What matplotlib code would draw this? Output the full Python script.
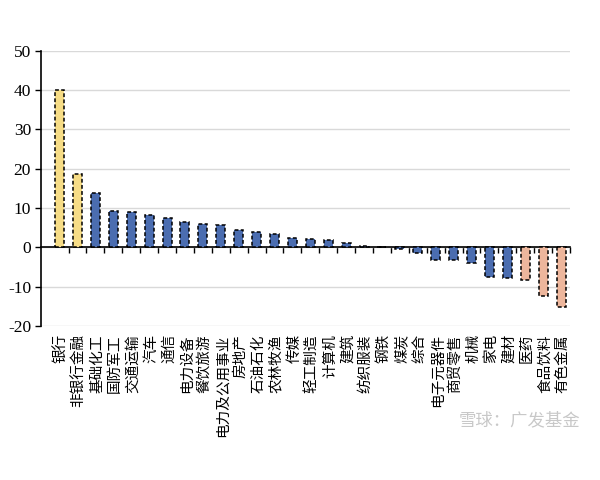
import matplotlib
matplotlib.use("Agg")
import matplotlib.pyplot as plt
import matplotlib.transforms as mtransforms
import numpy as np

plt.rcParams['font.family'] = ['Noto Sans CJK SC', 'DejaVu Sans']

categories = ["银行", "非银行金融", "基础化工", "国防军工", "交通运输", "汽车", "通信",
              "电力设备", "餐饮旅游", "电力及公用事业", "房地产", "石油石化", "农林牧渔",
              "传媒", "轻工制造", "计算机", "建筑", "纺织服装", "钢铁", "煤炭", "综合",
              "电子元器件", "商贸零售", "机械", "家电", "建材", "医药", "食品饮料", "有色金属"]
values = [40.1, 18.6, 13.9, 9.2, 9.0, 8.3, 7.5, 6.5, 5.9, 5.7, 4.5, 4.0, 3.5,
          2.3, 2.1, 1.9, 1.2, 0.3, 0.2, -0.4, -1.5, -3.3, -3.2, -4.1, -7.5, -7.9,
          -8.3, -12.4, -15.2]
groups = ["top"] * 2 + ["mid"] * 24 + ["bottom"] * 3
group_colors = {"top": "#F6DC86", "mid": "#4B6DB0", "bottom": "#EDB69C"}
yticks = [-20, -10, 0, 10, 20, 30, 40, 50]

fig = plt.figure(figsize=(6, 4.8), dpi=100)
ax = fig.add_axes([0.068, 0.321, 0.882, 0.573])

x = np.arange(len(categories))
colors = [group_colors[g] for g in groups]
ax.bar(x, values, width=0.5, color=colors, edgecolor="black", linewidth=1.1,
       linestyle=(0, (2.5, 1.5)), zorder=3)

ax.set_ylim(-20, 50)
ax.set_xlim(-1.05, len(categories) - 0.5)
ax.set_yticks(yticks)
ax.set_yticklabels([str(t) for t in yticks], fontfamily="Liberation Serif", fontsize=12.5)
ax.yaxis.grid(True, color="#d9d9d9", linewidth=1.0, zorder=0)
ax.set_axisbelow(True)

for s in ["top", "right"]:
    ax.spines[s].set_visible(False)
ax.spines["bottom"].set_position(("data", 0))
ax.spines["bottom"].set_color("black")
ax.spines["bottom"].set_linewidth(1.2)
ax.spines["left"].set_linewidth(1.2)
ax.tick_params(axis="y", direction="out", length=4, width=1.0, pad=3)
ax.set_xticks(x + 0.5)
ax.set_xticklabels([])
ax.tick_params(axis="x", direction="out", length=4, width=1.0)

trans = mtransforms.blended_transform_factory(ax.transData, ax.transAxes)
for xi, lab in zip(x, categories):
    ax.text(xi + 0.1, -0.03, lab, transform=trans, rotation=90, ha="center", va="top",
            fontsize=10.5, fontweight="medium", color="black")

fig.text(0.865, 0.125, "雪球：广发基金", fontsize=12.5, color="#c8c8c8", ha="center", va="center")

fig.savefig("out.png", dpi=100)
